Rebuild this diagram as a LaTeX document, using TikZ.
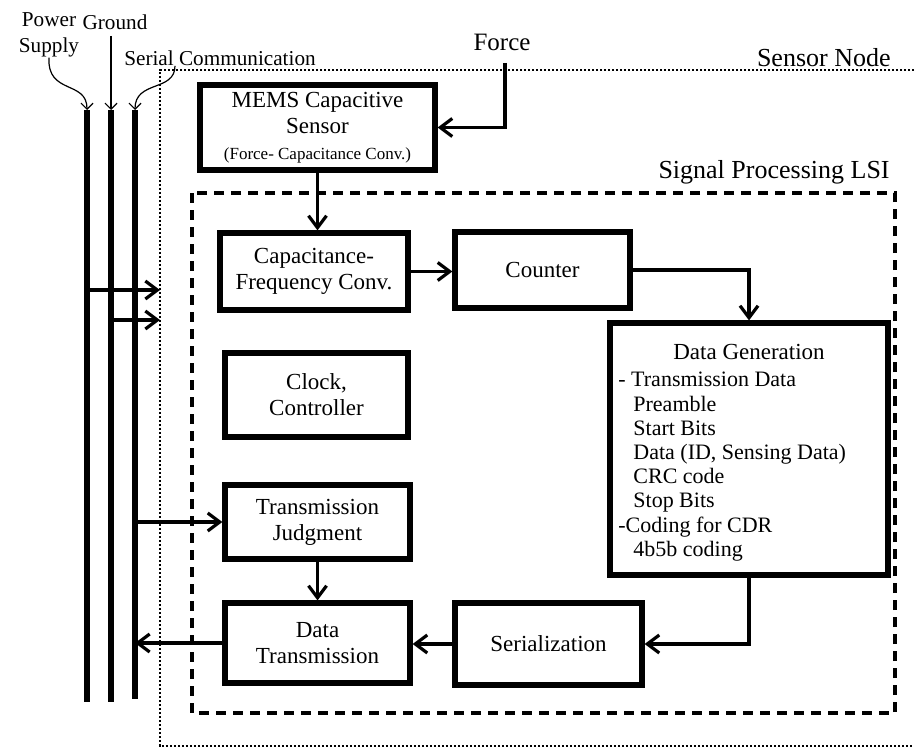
\documentclass[tikz,border=0pt]{standalone}
\usepackage{fontspec}
\setmainfont{Liberation Serif}
\usetikzlibrary{arrows.meta,calc}

\begin{document}
\begin{tikzpicture}[x=0.5pt, y=-0.5pt,
        >={Straight Barb[length=6pt,width=9pt]},
        block/.style={draw, line width=2.6pt, align=center, inner sep=2pt, font=\fontsize{11.5}{13}\selectfont},
        flow/.style={->, line width=1.6pt},
        bus/.style={line width=3pt},
        wire/.style={-{Straight Barb[length=3pt,width=6pt]}, line width=0.6pt},
        tag/.style={font=\fontsize{13}{15}\selectfont, inner sep=0pt},
        toplbl/.style={font=\fontsize{10.6}{13}\selectfont, align=center, inner sep=0pt}]
            \useasboundingbox (0,0) rectangle (914,749);

            % outlines: sensor node (dotted), LSI (dashed)
            \draw[line width=1.4pt, dash pattern=on 1.1pt off 0.9pt] (914,70) -- (160,70) -- (160,746) -- (914,746);
            \draw[line width=1.8pt, dash pattern=on 5pt off 3.5pt] (192,193) rectangle (895,713);
            \node[tag, anchor=base east] (snlbl) at (891,67) {Sensor Node};
            \node[tag, anchor=base east] (lsilbl) at (890,178) {Signal Processing LSI};

            % blocks
            \node[block, minimum width=117.5pt, minimum height=42.5pt] (mems) at (317.5,127.5)
                {MEMS Capacitive\\Sensor\\{\fontsize{8.5}{10}\selectfont (Force- Capacitance Conv.)}};
            \node[block, minimum width=94pt, minimum height=38.5pt] (capfreq) at (314,271.5) {Capacitance-\\Frequency Conv.};
            \node[block, minimum width=87.5pt, minimum height=38pt] (counter) at (542.5,270) {Counter};
            \node[block, minimum width=139pt, minimum height=126pt] (datagen) at (749,449) {};
            \node[block, minimum width=91.5pt, minimum height=42pt] (clock) at (316.5,395) {Clock,\\Controller};
            \node[block, minimum width=92.5pt, minimum height=37pt] (judge) at (317.5,522) {Transmission\\Judgment};
            \node[block, minimum width=92.5pt, minimum height=40pt] (datatx) at (317.5,643) {Data\\Transmission};
            \node[block, minimum width=93.5pt, minimum height=41pt] (serial) at (548.5,644) {Serialization};

            \node[font=\fontsize{11.5}{13}\selectfont] (dgtitle) at (749,352) {Data Generation};
            \node[anchor=north west, align=left, inner sep=0pt, font=\fontsize{11}{12.1}\selectfont] (dglist) at (618,372)
                {- Transmission Data\\\hspace*{7.5pt}Preamble\\\hspace*{7.5pt}Start Bits\\\hspace*{7.5pt}Data (ID, Sensing Data)\\
                 \hspace*{7.5pt}CRC code\\\hspace*{7.5pt}Stop Bits\\-Coding for CDR\\\hspace*{7.5pt}4b5b coding};

            % supply / ground / serial lines
            \coordinate (pwr top) at (87,110);
            \coordinate (gnd top) at (111,110);
            \coordinate (ser top) at (135,110);
            \draw[bus] (pwr top) -- (87,702);
            \draw[bus] (gnd top) -- (111,702);
            \draw[bus] (ser top) -- (135,699);

            \node[toplbl] (pwrlbl) at (49,35) {Power\\Supply};
            \node[toplbl] (gndlbl) at (115,22) {Ground};
            \node[toplbl] (serlbl) at (220,58) {Serial Communication};
            \draw[wire] (pwrlbl.south) .. controls (47,95) and (87,80) .. (pwr top);
            \draw[wire] ($(gndlbl.south -| gnd top)+(0,6)$) -- (gnd top);
            \draw[wire] ($(serlbl.south)+(-45,0)$) .. controls (175,92) and (135,80) .. (ser top);

            % force input
            \node[tag, font=\fontsize{12.5}{15}\selectfont] (force) at (502,42) {Force};
            \coordinate (force in) at (505,63);
            \draw[flow] (force in) |- (mems.east);

            % signal flow
            \draw[flow] (mems.south) -- (mems.south |- capfreq.north);
            \draw[flow] (capfreq.east) -- (capfreq.east -| counter.west);
            \draw[flow] (counter.east) -| (datagen.north);
            \draw[flow] (datagen.south) |- (serial.east);
            \draw[flow] (serial.west) -- (serial.west -| datatx.east);
            \draw[flow] (judge.south) -- (datatx.north);

            \coordinate (pwr in) at (160,290);
            \coordinate (gnd in) at (160,320);
            \draw[flow] (pwr top |- pwr in) -- (pwr in);
            \draw[flow] (gnd top |- gnd in) -- (gnd in);
            \draw[flow] (ser top |- judge.west) -- (judge.west);
            \draw[flow] (datatx.west) -- (datatx.west -| ser top);
        \end{tikzpicture}
\end{document}
